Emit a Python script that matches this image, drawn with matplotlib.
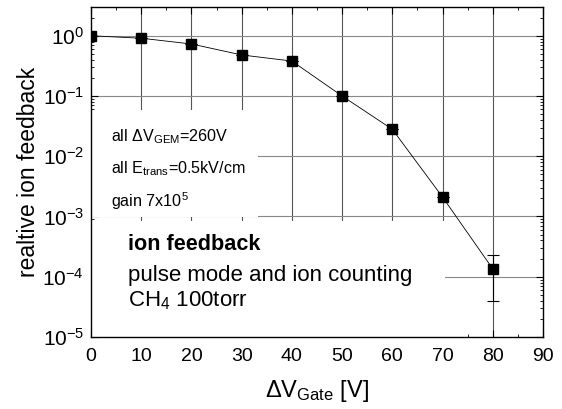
import matplotlib
matplotlib.use("Agg")
import matplotlib.pyplot as plt
from matplotlib.patches import Rectangle
from matplotlib.ticker import LogLocator, MultipleLocator, NullFormatter

plt.rcParams['font.family'] = ['Liberation Sans', 'DejaVu Sans']
plt.rcParams['mathtext.fontset'] = 'custom'
plt.rcParams['mathtext.rm'] = 'Liberation Sans'
plt.rcParams['mathtext.it'] = 'Liberation Sans'
plt.rcParams['mathtext.bf'] = 'Liberation Sans:bold'
plt.rcParams['mathtext.default'] = 'regular'

gate_voltage = [0, 10, 20, 30, 40, 50, 60, 70, 80]
ion_feedback = [1.0, 0.91, 0.73, 0.48, 0.38, 0.10, 0.028, 0.0021, 1.35e-4]
err_low = [0, 0, 0, 0, 0, 0, 0, 0, 1.35e-4 - 4.0e-5]
err_high = [0, 0, 0, 0, 0, 0, 0, 0, 2.3e-4 - 1.35e-4]

W, H = 562, 409
fig = plt.figure(figsize=(W / 100, H / 100), dpi=100)
L, R, T, B = 91, 543, 7, 337
ax = fig.add_axes([L / W, 1 - B / H, (R - L) / W, (B - T) / H])

ax.set_yscale('log')
ax.set_xlim(0, 90)
ax.set_ylim(1e-5, 3)

# grid lines
for xv in range(10, 90, 10):
    ax.axvline(xv, color='#555555', lw=0.8, zorder=1)
for yv in [1, 1e-1, 1e-2, 1e-3, 1e-4]:
    ax.axhline(yv, color='#888888', lw=0.8, zorder=1)

# white boxes under texts
ax.add_patch(Rectangle((0, (B - 217) / (B - T)), (258 - L) / (R - L), (217 - 110) / (B - T),
                       transform=ax.transAxes, facecolor='white', edgecolor='none', zorder=2))
ax.add_patch(Rectangle((0, 0), (445 - L) / (R - L), (B - 221) / (B - T),
                       transform=ax.transAxes, facecolor='white', edgecolor='none', zorder=2))

ax.errorbar(gate_voltage, ion_feedback, yerr=[err_low, err_high], fmt='-', color='black',
            lw=0.6, elinewidth=0.8, capsize=4, capthick=0.8, zorder=3)
ax.plot(gate_voltage, ion_feedback, 's', color='black', markersize=7, zorder=4)

ax.xaxis.set_major_locator(MultipleLocator(10))
ax.xaxis.set_minor_locator(MultipleLocator(5))
ax.yaxis.set_major_locator(LogLocator(base=10, numticks=10))
ax.yaxis.set_minor_locator(LogLocator(base=10, subs=range(2, 10), numticks=10))
ax.yaxis.set_minor_formatter(NullFormatter())
ax.tick_params(which='both', direction='in', top=True, right=True, zorder=5)
ax.tick_params(axis='x', which='major', labelsize=14, pad=8)
ax.tick_params(axis='y', which='major', labelsize=15, pad=5)
ax.tick_params(which='major', length=5, width=0.8)
ax.tick_params(which='minor', length=2.5, width=0.6)
for s in ax.spines.values():
    s.set_linewidth(1.0)
    s.set_zorder(6)

ax.set_xlabel(r'$\Delta$V$_{Gate}$ [V]', fontsize=17, labelpad=9)
ax.set_ylabel('realtive ion feedback', fontsize=16.5, labelpad=2)

def fx(x):
    return x / W
def fy(y):
    return 1 - y / H

fig.text(fx(111), fy(141), r'all $\Delta$V$_{GEM}$=260V', fontsize=11.6)
fig.text(fx(111), fy(173), r'all E$_{trans}$=0.5kV/cm', fontsize=11.6)
fig.text(fx(111), fy(207), r'gain 7x10$^{5}$', fontsize=11.6)
fig.text(fx(128), fy(250), 'ion feedback', fontsize=15.6, fontweight='bold')
fig.text(fx(128), fy(281), 'pulse mode and ion counting', fontsize=16)
fig.text(fx(128), fy(306), r'CH$_4$ 100torr', fontsize=16)

fig.savefig('out.png', dpi=100)
